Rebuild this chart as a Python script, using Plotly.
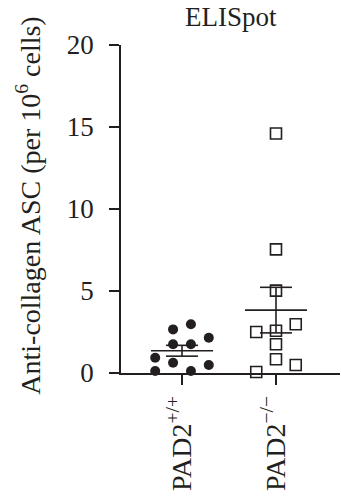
import numpy as np
import plotly.graph_objects as go

# Anti-collagen antibody-secreting cells per 10^6 cells, one value per mouse
groups = ["PAD2<sup>+/+</sup>", "PAD2<sup>\u2212/\u2212</sup>"]
wt_values = [2.97, 2.66, 2.15, 1.75, 1.75, 0.93, 0.63, 0.49, 0.12, 0.12]
ko_values = [14.6, 7.54, 5.02, 2.97, 2.58, 2.50, 1.75, 0.84, 0.49, 0.06]

# horizontal slot of each dot within its column (scatter layout only)
wt_slot = [0.5, -0.5, 1.5, -0.5, 0.5, -1.5, -0.5, 1.5, -1.5, 0.5]
ko_slot = [0, 0, 0, 1, 0, -1, 0, 0, 1, -1]

y_ticks = [0, 5, 10, 15, 20]

INK = "#231f20"
FONT = "Liberation Serif"
FS = 27

fig = go.Figure()

series = [
    (1, wt_values, wt_slot, 0.19, dict(symbol="circle", size=10, color=INK, line=dict(width=0))),
    (2, ko_values, ko_slot, 0.21, dict(symbol="square", size=11, color="white", line=dict(width=1.6, color=INK))),
]

for xc, vals, slots, step, marker in series:
    v = np.array(vals)
    fig.add_trace(go.Scatter(
        x=[xc + s * step for s in slots], y=v, mode="markers",
        marker=marker, cliponaxis=False, showlegend=False, hoverinfo="y"))

# mean with SEM bars on top of each column
for xc, vals, slots, step, marker in series:
    v = np.array(vals)
    mean = v.mean()
    sem = v.std(ddof=1) / np.sqrt(len(v))
    lo, hi = mean - sem, mean + sem
    xs = [xc - 0.33, xc + 0.33, None,
          xc - 0.17, xc + 0.17, None,
          xc - 0.17, xc + 0.17, None,
          xc, xc]
    ys = [mean, mean, None, hi, hi, None, lo, lo, None, lo, hi]
    fig.add_trace(go.Scatter(
        x=xs, y=ys, mode="lines", line=dict(color=INK, width=1.6),
        cliponaxis=False, showlegend=False, hoverinfo="skip"))

fig.update_layout(
    width=341, height=500,
    margin=dict(l=121, r=1, t=45, b=127),
    plot_bgcolor="white", paper_bgcolor="white",
    font=dict(family=FONT, size=FS, color=INK),
    xaxis=dict(
        range=[0.351, 2.681], tickvals=[1, 2], ticktext=groups,
        tickangle=-90, ticks="outside", ticklen=10, tickwidth=1.6, tickcolor=INK,
        showline=True, linecolor=INK, linewidth=1.6, showgrid=False, zeroline=False,
        tickfont=dict(family=FONT, size=28, color=INK)),
    yaxis=dict(
        range=[0, 20], tickvals=y_ticks, ticks="outside", ticklen=10,
        tickwidth=1.6, tickcolor=INK, showline=True, linecolor=INK, linewidth=1.6,
        showgrid=False, zeroline=False, ticklabelstandoff=10,
        tickfont=dict(family=FONT, size=FS, color=INK)),
    annotations=[
        dict(text="ELISpot", xref="paper", yref="paper", x=0.5, y=1.085,
             xanchor="center", yanchor="middle", showarrow=False,
             font=dict(family=FONT, size=FS, color=INK)),
        dict(text="Anti-collagen ASC (per 10<sup>6</sup> cells)",
             xref="paper", yref="paper", x=(29 - 121) / 219, y=0.51,
             xanchor="center", yanchor="middle", textangle=-90, showarrow=False,
             font=dict(family=FONT, size=28, color=INK)),
    ],
)

fig.write_html("out.html")
